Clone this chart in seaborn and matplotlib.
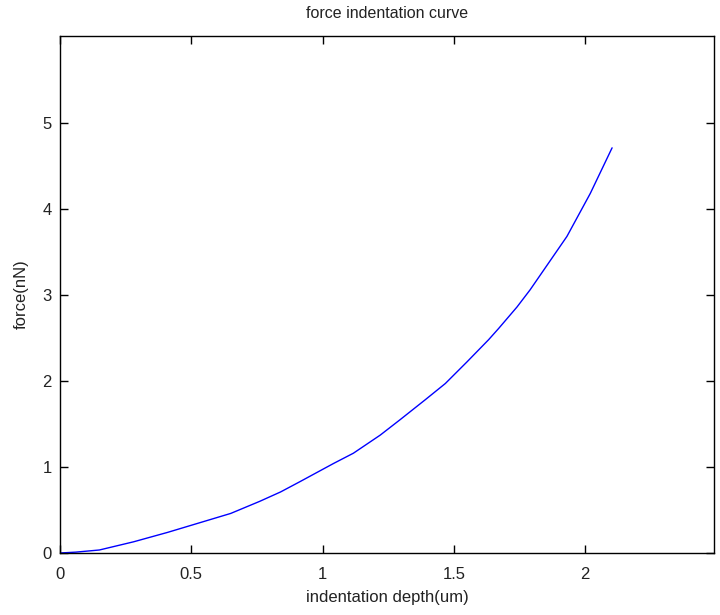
import matplotlib
matplotlib.use("Agg")
import matplotlib.pyplot as plt
import seaborn as sns
import pandas as pd

depth_um = [0, 0.06, 0.15, 0.28, 0.41, 0.53, 0.65, 0.76, 0.84, 0.914, 1.041, 1.117,
            1.219, 1.295, 1.39, 1.467, 1.549, 1.632, 1.67, 1.74, 1.79, 1.86, 1.93,
            2.019, 2.102]
force_nN = [0, 0.01, 0.035, 0.13, 0.24, 0.35, 0.46, 0.6, 0.71, 0.83, 1.04, 1.16,
            1.37, 1.55, 1.78, 1.97, 2.22, 2.48, 2.61, 2.86, 3.06, 3.37, 3.68,
            4.18, 4.71]
x_ticks = [0, 0.5, 1, 1.5, 2]
x_labels = ["0", "0.5", "1", "1.5", "2"]
y_ticks = [0, 1, 2, 3, 4, 5]
y_labels = ["0", "1", "2", "3", "4", "5"]

sns.set_style("white")
plt.rcParams['font.family'] = ['Liberation Sans', 'DejaVu Sans']

df = pd.DataFrame({"depth": depth_um, "force": force_nN})

fig = plt.figure(figsize=(7.2, 6.15), dpi=100)
ax = fig.add_axes([60/720, 1-553/615, (714-60)/720, (553-36)/615])
sns.lineplot(data=df, x="depth", y="force", ax=ax, color="#0000ff",
             linewidth=1.0, sort=False, estimator=None)

ax.set_xlim(0, 2.49)
ax.set_ylim(0, 6.01)
ax.set_xticks(x_ticks)
ax.set_xticklabels(x_labels)
ax.set_yticks(y_ticks)
ax.set_yticklabels(y_labels)
ax.tick_params(direction="in", length=6, width=1, color="black",
               top=True, right=True, bottom=True, left=True,
               labelsize=12, labelcolor="#222222")
ax.tick_params(axis="x", pad=10)
ax.tick_params(axis="y", pad=6)
for s in ax.spines.values():
    s.set_color("black")
    s.set_linewidth(1.0)
    s.set_visible(True)

ax.set_xlabel("indentation depth(um)", fontsize=12, color="#222222", labelpad=6)
ax.set_ylabel("force(nN)", fontsize=12, color="#222222", labelpad=10)
ax.set_title("force indentation curve", fontsize=11.5, color="#222222", pad=13)

fig.savefig("out.png", dpi=100)
